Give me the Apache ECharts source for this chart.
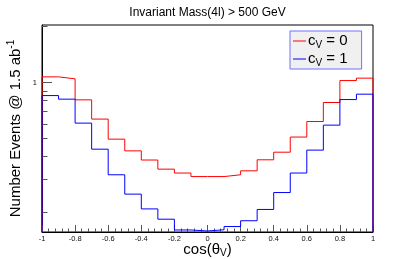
<!DOCTYPE html>
<html>
<head>
<meta charset="utf-8">
<script src="https://cdn.jsdelivr.net/npm/echarts@6/dist/echarts.min.js"></script>
<style>
html,body{margin:0;padding:0;background:#fff;}
#c{width:415px;height:259px;}
</style>
</head>
<body>
<div id="c"></div>
<script>
// Bin edges of cos(theta_V)
var binEdges = [-1,-0.9,-0.8,-0.7,-0.6,-0.5,-0.4,-0.3,-0.2,-0.1,0,0.1,0.2,0.3,0.4,0.5,0.6,0.7,0.8,0.9,1];
// Events per bin, cV = 0 (red)
var cv0 = [1.073,1.047,0.807,0.636,0.496,0.429,0.383,0.342,0.326,0.312,0.312,0.319,0.335,0.384,0.422,0.509,0.617,0.781,1.025,1.056];
// Events per bin, cV = 1 (blue)
var cv1 = [0.851,0.814,0.605,0.438,0.319,0.251,0.209,0.184,0.161,0.159,0.1614,0.168,0.1805,0.2076,0.256,0.326,0.433,0.590,0.810,0.866];
var xTickLabels = ['-1','-0.8','-0.6','-0.4','-0.2','0','0.2','0.4','0.6','0.8','1'];
var yMajorTicks = [1];
var yMinorTicks = [0.2,0.3,0.4,0.5,0.6,0.7,0.8,0.9,2];
var yMin = 0.157, yMax = 2.04;

function histPoints(vals){
  var pts = [[binEdges[0], yMin]];
  for (var i = 0; i < vals.length; i++) pts.push([binEdges[i], vals[i]]);
  pts.push([binEdges[binEdges.length-1], vals[vals.length-1]]);
  pts.push([binEdges[binEdges.length-1], yMin]);
  return pts;
}

var FONT = 'Liberation Sans';
var chart = echarts.init(document.getElementById('c'));
var legendNames = {'cV0':'{a|c}{s|V}{a| = 0}', 'cV1':'{a|c}{s|V}{a| = 1}'};
chart.setOption({
  animation: false,
  title: {
    text: 'Invariant Mass(4l) > 500 GeV',
    left: 'center', top: 2,
    textStyle: {fontFamily: FONT, fontSize: 12, fontWeight: 'normal', color: '#000'}
  },
  grid: {left: 42, right: 42, top: 25, bottom: 27, outerBoundsMode: 'none', containLabel: false,
    show: true, borderColor: '#000', borderWidth: 1, backgroundColor: '#fff'},
  legend: {
    orient: 'vertical', left: 290, top: 31,
    padding: [1, 14, 1, 3], itemGap: 0, itemWidth: 13, itemHeight: 1, icon: 'rect',
    backgroundColor: '#f0f0f0', borderColor: '#7070ff', borderWidth: 1, borderRadius: 0,
    data: ['cV0', 'cV1'],
    formatter: function(n){ return legendNames[n]; },
    textStyle: {
      fontFamily: FONT, padding: [0, 0, 0, -3],
      rich: {
        a: {fontFamily: FONT, fontSize: 15, color: '#000', lineHeight: 17},
        s: {fontFamily: FONT, fontSize: 10, color: '#000', lineHeight: 10, padding: [8, 0, 0, 0]}
      }
    }
  },
  xAxis: {
    type: 'value', min: -1, max: 1, interval: 0.2,
    name: '{a|cos(θ}{s|V}{a|)}', nameLocation: 'middle', nameGap: 9, nameMoveOverlap: false,
    nameTextStyle: {
      rich: {
        a: {fontFamily: FONT, fontSize: 15, color: '#000', lineHeight: 17},
        s: {fontFamily: FONT, fontSize: 10, color: '#000', lineHeight: 10, padding: [8, 0, 0, 0]}
      }
    },
    axisLine: {show: true, onZero: false, lineStyle: {color: '#000', width: 1}},
    axisTick: {show: true, inside: true, length: 7, lineStyle: {color: '#555'}},
    minorTick: {show: true, splitNumber: 5, length: 3.5, lineStyle: {color: '#555'}},
    splitLine: {show: false},
    axisLabel: {
      fontFamily: FONT, fontSize: 7.5, color: '#111', margin: 3,
      showMinLabel: true, showMaxLabel: true,
      formatter: function(v){ return xTickLabels[Math.round((v + 1) / 0.2)]; }
    }
  },
  yAxis: [{
    type: 'log', logBase: 10, min: yMin, max: yMax,
    name: '{a|Number Events @ 1.5 ab}{s|-1}', nameLocation: 'middle', nameGap: 18, nameRotate: 90, nameMoveOverlap: false,
    nameTextStyle: {
      rich: {
        a: {fontFamily: FONT, fontSize: 15, color: '#000', lineHeight: 17},
        s: {fontFamily: FONT, fontSize: 10, color: '#000', lineHeight: 10, padding: [0, 0, 8, 0]}
      }
    },
    axisLine: {show: true, onZero: false, lineStyle: {color: '#000', width: 1}},
    axisTick: {show: true, inside: true, length: 10, customValues: yMajorTicks, lineStyle: {color: '#555'}},
    axisLabel: {fontFamily: FONT, fontSize: 7.5, color: '#111', margin: 5, customValues: yMajorTicks,
      formatter: function(v){ return String(Math.round(v)); }},
    splitLine: {show: false}
  }, {
    type: 'log', logBase: 10, min: yMin, max: yMax, position: 'left',
    axisLine: {show: false, onZero: false},
    axisTick: {show: true, inside: true, length: 5.5, customValues: yMinorTicks, lineStyle: {color: '#555'}},
    axisLabel: {show: false},
    splitLine: {show: false}
  }],
  series: [{
    name: 'cV0', type: 'line', step: 'end', symbol: 'none', yAxisIndex: 0,
    data: histPoints(cv0), color: '#ff0000',
    lineStyle: {color: '#ff0000', width: 1}
  }, {
    name: 'cV1', type: 'line', step: 'end', symbol: 'none', yAxisIndex: 0,
    data: histPoints(cv1), color: '#0000ff',
    lineStyle: {color: '#0000ff', width: 1}
  }]
});
</script>
</body>
</html>
